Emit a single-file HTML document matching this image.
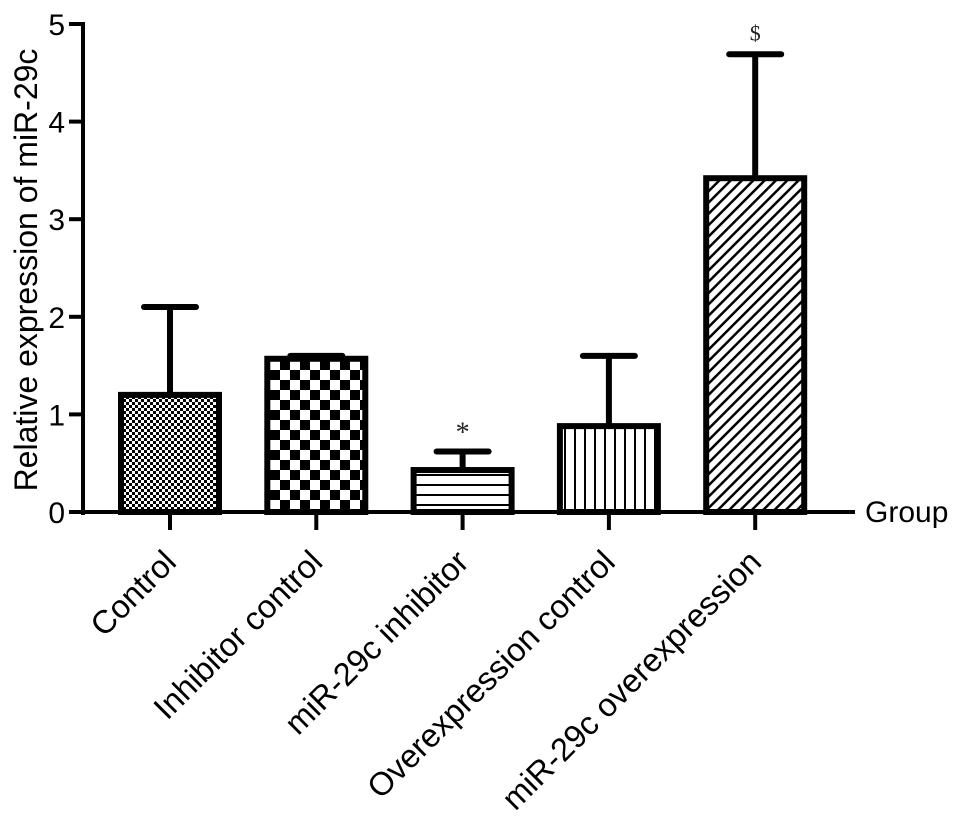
<!DOCTYPE html>
<html><head><meta charset="utf-8"><style>
body{margin:0;background:#fff}
svg{display:block;font-family:"Liberation Sans",Arial,sans-serif}
</style></head><body>
<svg id="c" width="969" height="828" viewBox="0 0 969 828">
<defs>
<pattern id="p0" width="6" height="6" patternUnits="userSpaceOnUse"><rect width="6" height="6" fill="#fff"/><rect width="3" height="3" fill="#000"/><rect x="3" y="3" width="3" height="3" fill="#000"/></pattern>
<pattern id="p1" width="20" height="20" patternUnits="userSpaceOnUse"><rect width="20" height="20" fill="#fff"/><rect width="10" height="10" fill="#000"/><rect x="10" y="10" width="10" height="10" fill="#000"/></pattern>
<pattern id="p2" width="10" height="10" patternUnits="userSpaceOnUse"><rect width="10" height="10" fill="#fff"/><rect y="4" width="10" height="2" fill="#000"/></pattern>
<pattern id="p3" width="10" height="10" patternUnits="userSpaceOnUse"><rect width="10" height="10" fill="#fff"/><rect x="4" width="2" height="10" fill="#000"/></pattern>
<pattern id="p4" width="8" height="8" patternUnits="userSpaceOnUse" patternTransform="rotate(45)"><rect width="8" height="8" fill="#fff"/><rect x="3" width="2.5" height="8" fill="#000"/></pattern>
</defs>
</svg>
<script>
const categories=["Control","Inhibitor control","miR-29c inhibitor","Overexpression control","miR-29c overexpression"];
const values=[1.2,1.57,0.43,0.88,3.42];
const errors=[0.9,0.03,0.19,0.72,1.27];
const marks=["","","*","","$"];
const yTicks=[0,1,2,3,4,5];
const svg=document.getElementById('c');
const NS='http://www.w3.org/2000/svg';
const y0=512,y5=24,xL=83,xR=855;
const y=v=>y0-(y0-y5)*v/5;
const xc=i=>170+i*146.3;
const bw=98;
function mk(t,a,p){const e=document.createElementNS(NS,t);for(const k in a)e.setAttribute(k,a[k]);(p||svg).appendChild(e);return e;}
let ax=mk('line',{x1:xL,y1:y5-2,x2:xL,y2:y0+3,stroke:'#000','stroke-width':4});


yTicks.forEach(t=>{
 let l=mk('line',{x1:xL-14,y1:y(t),x2:xL,y2:y(t),stroke:'#000','stroke-width':4});
 
 
 let tx=mk('text',{x:xL-18,y:y(t)+11,'text-anchor':'end','font-size':30});
 tx.textContent=t;
 
 
});
let yt=mk('text',{x:0,y:0,'text-anchor':'middle','font-size':32,transform:'translate(37,270) rotate(-90)'});
yt.textContent='Relative expression of miR-29c';


categories.forEach((c,i)=>{
 const cx=xc(i),v=values[i],e=errors[i];
 let el=mk('line',{x1:cx,y1:y(v),x2:cx,y2:y(v+e),stroke:'#000','stroke-width':6});
 
 
 let cap=mk('line',{x1:cx-26,y1:y(v+e),x2:cx+26,y2:y(v+e),stroke:'#000','stroke-width':6,'stroke-linecap':'round'});
 
 
 let r=mk('rect',{x:cx-bw/2,y:y(v),width:bw,height:y0-y(v),fill:'url(#p'+i+')',stroke:'#000','stroke-width':6});
 
 
 if(marks[i]){let m=mk('text',{x:cx,y:y(v+e)-(marks[i]=='*'?10:14),'text-anchor':'middle','font-size':marks[i]=='*'?28:22,'font-family':'Liberation Serif,serif',fill:'#222'});m.textContent=marks[i];
 
 }
 let tk=mk('line',{x1:cx,y1:y0,x2:cx,y2:y0+18,stroke:'#000','stroke-width':4});
 
 
 let lb=mk('text',{x:0,y:0,'text-anchor':'end','font-size':32.5,transform:`translate(${cx+8},${y0+52}) rotate(-45)`});
 lb.textContent=c;
 
 
});
let xa=mk('line',{x1:xL,y1:y0,x2:xR,y2:y0,stroke:'#000','stroke-width':4});


let xt=mk('text',{x:865,y:522,'font-size':30});
xt.textContent='Group';


</script>
</body></html>
